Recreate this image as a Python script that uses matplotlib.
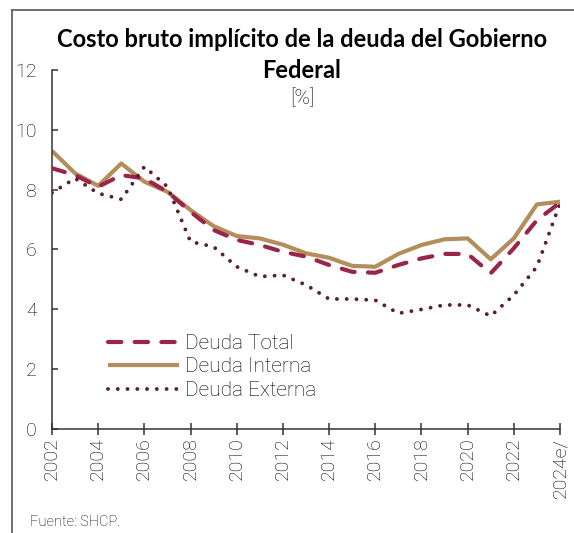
import matplotlib
matplotlib.use("Agg")
import matplotlib.pyplot as plt
from matplotlib.lines import Line2D

# data
years = list(range(2002, 2025))
deuda_total = [8.72, 8.49, 8.10, 8.49, 8.38, 7.93, 7.26, 6.65, 6.32, 6.15, 5.92, 5.76,
               5.48, 5.25, 5.22, 5.48, 5.70, 5.85, 5.85, 5.20, 6.04, 6.98, 7.57]
deuda_interna = [9.30, 8.55, 8.13, 8.88, 8.27, 7.93, 7.32, 6.78, 6.45, 6.37, 6.16, 5.87,
                 5.72, 5.45, 5.42, 5.85, 6.15, 6.34, 6.37, 5.67, 6.37, 7.51, 7.60]
deuda_externa = [7.90, 8.38, 7.88, 7.68, 8.77, 8.10, 6.26, 6.09, 5.42, 5.09, 5.14, 4.81,
                 4.34, 4.34, 4.30, 3.86, 3.99, 4.14, 4.14, 3.77, 4.47, 5.42, 7.54]
xtick_years = list(range(2002, 2025, 2))
xtick_labels = [str(y) for y in xtick_years[:-1]] + ["2024e/"]

GUINDA = "#9D2449"
DORADO = "#B38E5D"
OSCURO = "#5B1F2E"
LIGHT = "Roboto"
TITLE = "Lato"

plt.rcParams['font.family'] = [LIGHT, 'DejaVu Sans']

fig = plt.figure(figsize=(5.74, 5.33), dpi=100)
ax = fig.add_axes([0.0906, 0.196, 0.885, 0.672])

ax.plot(years, deuda_total, color=GUINDA, lw=3.0, linestyle=(0, (3.2, 3.2)),
        dash_capstyle='round', label="Deuda Total", zorder=3)
ax.plot(years, deuda_interna, color=DORADO, lw=3.0, solid_capstyle='butt',
        label="Deuda Interna", zorder=2)
ax.plot(years, deuda_externa, color=OSCURO, lw=2.8, linestyle=(0, (0.01, 2.5)),
        dash_capstyle='round', label="Deuda Externa", zorder=4)

ax.set_xlim(2002, 2024)
ax.set_ylim(0, 12)
ax.set_yticks(range(0, 13, 2))
ax.set_xticks(xtick_years)
ax.set_xticklabels(xtick_labels, rotation=90, fontsize=14, fontweight='light')
for lbl in ax.get_yticklabels():
    lbl.set_fontsize(14)
    lbl.set_fontweight('light')

for s in ['top', 'right']:
    ax.spines[s].set_visible(False)
for s in ['left', 'bottom']:
    ax.spines[s].set_color('#333333')
    ax.spines[s].set_linewidth(1.1)
ax.tick_params(axis='y', direction='in', length=4, width=1.1, color='#333333', pad=11)
ax.tick_params(axis='x', direction='inout', length=9, width=1.1, color='#333333', pad=2)

ax.legend(loc='center left', bbox_to_anchor=(0.110, 0.172), frameon=False,
          handlelength=3.4, handletextpad=0.3, labelspacing=0.22,
          borderpad=0, borderaxespad=0, prop={'family': LIGHT, 'weight': 'light', 'size': 15})

fig.text(0.526, 0.925, "Costo bruto implícito de la deuda del Gobierno", ha='center', va='center',
         fontsize=17, fontweight='bold', family=TITLE)
fig.text(0.526, 0.868, "Federal", ha='center', va='center', fontsize=17, fontweight='bold',
         family=TITLE)
fig.text(0.526, 0.815, "[%]", ha='center', va='center', fontsize=15, fontweight='light')
fig.text(0.052, 0.02, "Fuente: SHCP.", ha='left', va='center', fontsize=10.5, fontweight='light')

# frame around the chart (partly cropped)
fig.add_artist(Line2D([0.0209, 0.0209], [0.0, 0.981], color='#555555', lw=1.2))
fig.add_artist(Line2D([0.0209, 1.0], [0.981, 0.981], color='#555555', lw=1.2))

fig.savefig("out.png", dpi=100)
